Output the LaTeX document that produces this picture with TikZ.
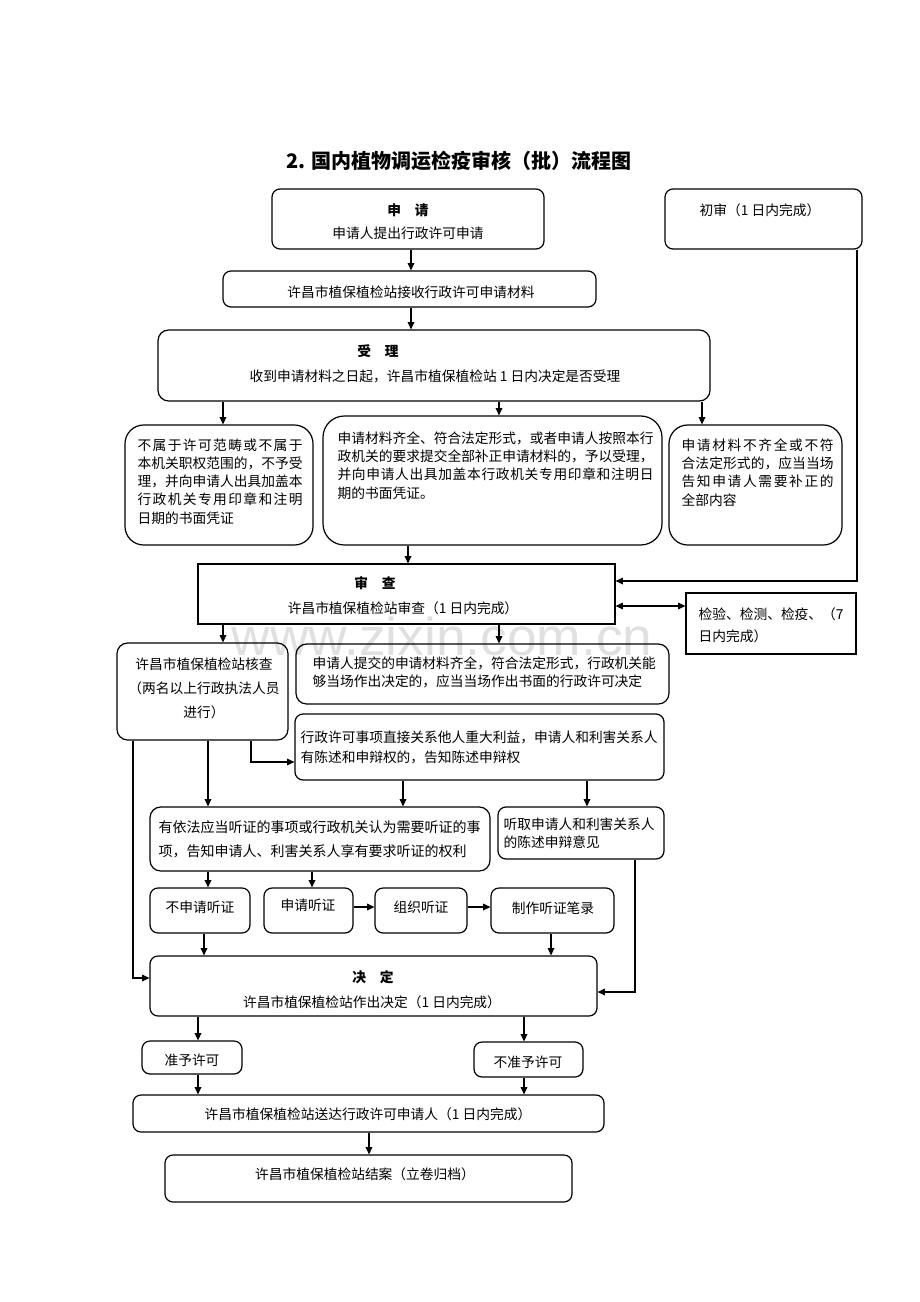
\documentclass[tikz,border=0pt]{standalone}
\usepackage{fontspec}
\setmainfont{Noto Sans CJK SC}
\newfontfamily\wmfont{Liberation Sans}
\usetikzlibrary{arrows.meta,fit}
\XeTeXlinebreaklocale "zh"
\XeTeXlinebreakskip=0pt plus 1.5pt

\begin{document}
\begin{tikzpicture}[x=0.75pt,y=-0.75pt,line width=0.9pt,
	box/.style={draw,rounded corners=6pt,inner sep=0pt},
	bigbox/.style={draw,rounded corners=14pt,inner sep=0pt},
	sqbox/.style={draw,inner sep=0pt},
	txt/.style={inner sep=0pt,font=\fontsize{10.3pt}{13.7pt}\selectfont},
	head/.style={txt,font=\fontsize{10.3pt}{13.7pt}\selectfont\bfseries},
	arr/.style={-{Triangle[length=5.5pt,width=5pt]}},
	arr2/.style={{Triangle[length=5.5pt,width=5pt]}-{Triangle[length=5.5pt,width=5pt]}}]
		
		\useasboundingbox (0,0) rectangle (920,1302);
		
		\node[text=black!12,inner sep=0pt,anchor=base,font=\wmfont\fontsize{40pt}{40pt}\selectfont] (wm) at (442,655) {www.zixin.com.cn};
		
		\node[txt,font=\fontsize{15pt}{18pt}\selectfont\bfseries] (title) at (459,161) {2. 国内植物调运检疫审核（批）流程图};
		
		\node[box,fit={(272,189) (544,249)}] (shenqing) {};
		\node[head] (shenqing-h) at (408,210) {申　请};
		\node[txt] (shenqing-t) at (408,233) {申请人提出行政许可申请};
		
		\node[box,fit={(665,189) (862,249)}] (chushen) {};
		\node[txt] (chushen-t) at (760,210) {初审（1 日内完成）};
		
		\node[box,fit={(223,271) (596,307)}] (jieshou) {};
		\node[txt] (jieshou-t) at (411,292) {许昌市植保植检站接收行政许可申请材料};
		
		\node[box,rounded corners=8pt,fit={(158,330) (710,401)}] (shouli) {};
		\node[head] (shouli-h) at (378,351) {受　理};
		\node[txt] (shouli-t) at (435,376) {收到申请材料之日起，许昌市植保植检站 1 日内决定是否受理};
		
		\node[bigbox,fit={(125,425) (313,545)}] (buyu) {};
		\node[txt,anchor=west,text width=123.75pt,align=justify] (buyu-t) at (137,481.5) {不属于许可范畴或不属于\linebreak 本机关职权范围的，不予受\linebreak 理，并向申请人出具加盖本\linebreak 行政机关专用印章和注明\linebreak 日期的书面凭证};
		
		\node[bigbox,rounded corners=16pt,fit={(323,416) (662,545)}] (shouli2) {};
		\node[txt,anchor=west,text width=237pt,align=justify] (shouli2-t) at (337,465.5) {申请材料齐全、符合法定形式，或者申请人按照本行\linebreak 政机关的要求提交全部补正申请材料的，予以受理，\linebreak 并向申请人出具加盖本行政机关专用印章和注明日\linebreak 期的书面凭证。};
		
		\node[bigbox,fit={(669,425) (842,545)}] (buqi) {};
		\node[txt,anchor=west,text width=114pt,align=justify] (buqi-t) at (681,472.5) {申请材料不齐全或不符\linebreak 合法定形式的，应当当场\linebreak 告知申请人需要补正的\linebreak 全部内容};
		
		\node[sqbox,fit={(198,564) (615,624)}] (shencha) {};
		\node[head] (shencha-h) at (375,583) {审　查};
		\node[txt] (shencha-t) at (403,608) {许昌市植保植检站审查（1 日内完成）};
		
		\node[sqbox,fit={(686,593) (856,654)}] (jianyan) {};
		\node[txt,anchor=west,align=left,font=\fontsize{10.3pt}{16.5pt}\selectfont] (jianyan-t) at (698,625) {检验、检测、检疫、（7\\日内完成）};
		
		\node[box,rounded corners=8pt,fit={(117,643) (288,740)}] (hecha) {};
		\node[txt,align=center,font=\fontsize{10.3pt}{18pt}\selectfont] (hecha-t) at (204,688) {许昌市植保植检站核查\\（两名以上行政执法人员\\进行）};
		
		\node[box,rounded corners=8pt,fit={(296,644) (669,704)}] (dangchang) {};
		\node[txt,anchor=west,align=left,font=\fontsize{10.3pt}{13.5pt}\selectfont] (dangchang-t) at (312,672) {申请人提交的申请材料齐全，符合法定形式，行政机关能\\够当场作出决定的，应当当场作出书面的行政许可决定};
		
		\node[box,fit={(295,714) (664,780)}] (chenshu) {};
		\node[txt,anchor=west,align=left,font=\fontsize{10.3pt}{15pt}\selectfont] (chenshu-t) at (300,747) {行政许可事项直接关系他人重大利益，申请人和利害关系人\\有陈述和申辩权的，告知陈述申辩权};
		
		\node[box,rounded corners=8pt,fit={(150,807) (490,871)}] (yifa) {};
		\node[txt,anchor=west,align=left,font=\fontsize{10.5pt}{18pt}\selectfont] (yifa-t) at (158,839) {有依法应当听证的事项或行政机关认为需要听证的事\\项，告知申请人、利害关系人享有要求听证的权利};
		
		\node[box,fit={(498,807) (664,859)}] (tingqu) {};
		\node[txt,anchor=west,align=left,font=\fontsize{10.3pt}{13.5pt}\selectfont] (tingqu-t) at (503,833) {听取申请人和利害关系人\\的陈述申辩意见};
		
		\node[box,fit={(150,888) (250,933)}] (bushen) {};
		\node[txt] (bushen-t) at (200,907) {不申请听证};
		\node[box,fit={(264,888) (353,933)}] (shenqtz) {};
		\node[txt] (shenqtz-t) at (308,905) {申请听证};
		\node[box,fit={(375,888) (467,933)}] (zuzhi) {};
		\node[txt] (zuzhi-t) at (421,907) {组织听证};
		\node[box,fit={(491,888) (614,933)}] (zhizuo) {};
		\node[txt] (zhizuo-t) at (553,908) {制作听证笔录};
		
		\node[box,fit={(150,956) (597,1016)}] (jueding) {};
		\node[head] (jueding-h) at (373,977) {决　定};
		\node[txt] (jueding-t) at (372,1002) {许昌市植保植检站作出决定（1 日内完成）};
		
		\node[box,fit={(142,1041) (242,1074)}] (zhunyu) {};
		\node[txt] (zhunyu-t) at (192,1060) {准予许可};
		\node[box,fit={(474,1042) (583,1077)}] (buzhunyu) {};
		\node[txt] (buzhunyu-t) at (528,1062) {不准予许可};
		
		\node[box,fit={(133,1095) (604,1132)}] (songda) {};
		\node[txt] (songda-t) at (368,1114) {许昌市植保植检站送达行政许可申请人（1 日内完成）};
		
		\node[box,fit={(165,1155) (572,1202)}] (jiean) {};
		\node[txt] (jiean-t) at (365,1174) {许昌市植保植检站结案（立卷归档）};
		
		\draw[arr] (shenqing.south -| 411,0) -- (jieshou.north -| 411,0);
		\draw[arr] (jieshou.south -| 411,0) -- (shouli.north -| 411,0);
		\draw[arr] (shouli.south -| 223,0) -- (buyu.north -| 223,0);
		\draw[arr] (shouli.south -| 499,0) -- (shouli2.north -| 499,0);
		\draw[arr] (shouli.south -| 702,0) -- (buqi.north -| 702,0);
		\draw[arr] (shouli2.south -| 408,0) -- (shencha.north -| 408,0);
		\draw[arr] (chushen.south -| 857,0) |- (shencha.east |- 0,581);
		\draw[arr2] (shencha.east |- 0,606) -- (jianyan.west |- 0,606);
		
		\draw[arr] (shencha.south -| 223,0) -- (hecha.north -| 223,0);
		\draw[arr] (shencha.south -| 499,0) -- (dangchang.north -| 499,0);
		\draw[arr] (hecha.south -| 251,0) |- (chenshu.west |- 0,762);
		\draw[arr] (hecha.south -| 208,0) -- (yifa.north -| 208,0);
		\draw[arr] (hecha.south -| 133,0) |- (jueding.west |- 0,978);
		\draw[arr] (chenshu.south -| 403,0) -- (yifa.north -| 403,0);
		\draw[arr] (chenshu.south -| 587,0) -- (tingqu.north -| 587,0);
		
		\draw[arr] (yifa.south -| 208,0) -- (bushen.north -| 208,0);
		\draw[arr] (yifa.south -| 312,0) -- (shenqtz.north -| 312,0);
		\draw[arr] (shenqtz.east |- 0,907) -- (zuzhi.west |- 0,907);
		\draw[arr] (zuzhi.east |- 0,907) -- (zhizuo.west |- 0,907);
		\draw[arr] (bushen.south -| 204,0) -- (jueding.north -| 204,0);
		\draw[arr] (zhizuo.south -| 551,0) -- (jueding.north -| 551,0);
		\draw[arr] (tingqu.south -| 635,0) |- (jueding.east |- 0,992);
		
		\draw[arr] (jueding.south -| 198,0) -- (zhunyu.north -| 198,0);
		\draw[arr] (jueding.south -| 524,0) -- (buzhunyu.north -| 524,0);
		\draw[arr] (zhunyu.south -| 198,0) -- (songda.north -| 198,0);
		\draw[arr] (buzhunyu.south -| 524,0) -- (songda.north -| 524,0);
		\draw[arr] (songda.south -| 369,0) -- (jiean.north -| 369,0);
		
\end{tikzpicture}
\end{document}
